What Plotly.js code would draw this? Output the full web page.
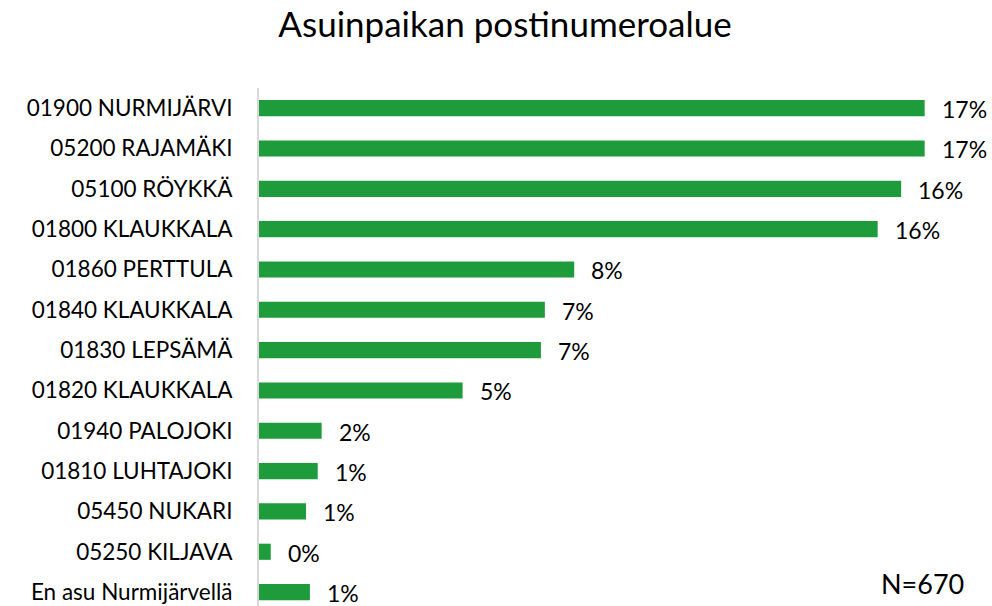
<!DOCTYPE html>
<html>
<head>
<meta charset="utf-8">
<script src="https://cdn.plot.ly/plotly-3.0.1.min.js"></script>
<style>html,body{margin:0;padding:0;background:#fff;}#chart{width:992px;height:606px;}</style>
</head>
<body>
<div id="chart"></div>
<script>
const categories = ["01900 NURMIJÄRVI","05200 RAJAMÄKI","05100 RÖYKKÄ","01800 KLAUKKALA","01860 PERTTULA","01840 KLAUKKALA","01830 LEPSÄMÄ","01820 KLAUKKALA","01940 PALOJOKI","01810 LUHTAJOKI","05450 NUKARI","05250 KILJAVA","En asu Nurmijärvellä"];
const values = [17.0, 17.0, 16.4, 15.8, 8.05, 7.3, 7.2, 5.2, 1.6, 1.5, 1.2, 0.3, 1.3];
const labels = ["17%","17%","16%","16%","8%","7%","7%","5%","2%","1%","1%","0%","1%"];
const titleText = "Asuinpaikan postinumeroalue";
const noteText = "N=670";

const font = "Lato, 'Open Sans', sans-serif";
const annotations = categories.map((c,i)=>({
  x: values[i], y: c, xref:'x', yref:'y', text: labels[i], showarrow:false,
  xanchor:'left', xshift: 15, yshift: -1, font:{family:font, size:23, color:'#000'}
}));
annotations.push({x:(922-259)/733, y:(606-583)/518, xref:'paper', yref:'paper', text:noteText, showarrow:false,
  xanchor:'center', yanchor:'middle', font:{family:font, size:27, color:'#000'}});

Plotly.newPlot('chart', [{
  type:'bar', orientation:'h', x: values, y: categories,
  marker:{color:'#1e9b3a'}, width:0.4, hoverinfo:'skip'
}], {
  width:992, height:606,
  margin:{l:259, r:0, t:88, b:0},
  paper_bgcolor:'#fff', plot_bgcolor:'#fff',
  title:{text:titleText, x:505/992, xref:'container', xanchor:'center', y:1-25/606, yref:'container', yanchor:'middle', font:{family:font, size:35, color:'#000'}},
  xaxis:{range:[0,18.72], showgrid:false, zeroline:false, showticklabels:false, showline:false, fixedrange:true},
  yaxis:{type:'category', categoryorder:'array', categoryarray:categories, range:[12.345,-0.5],
    showgrid:false, zeroline:false, showline:true, linecolor:'#d9d9d9', linewidth:2,
    ticks:'', ticklabelstandoff:20, tickfont:{family:font, size:22.5, color:'#000'}, fixedrange:true},
  annotations: annotations,
  showlegend:false
}, {displayModeBar:false, staticPlot:true});
</script>
</body>
</html>
